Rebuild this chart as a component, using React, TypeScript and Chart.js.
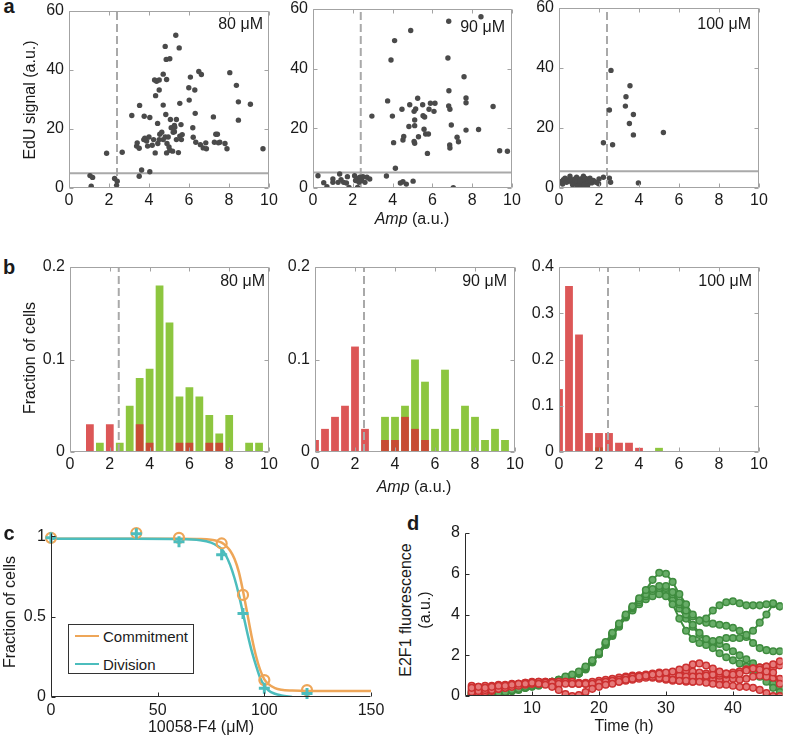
import React, { useEffect, useRef } from 'react';
import { Chart, registerables } from 'chart.js';
Chart.register(...registerables);

const FONT = '"Liberation Sans", Arial, Helvetica, sans-serif';
const INK = '#1a1a1a';
const DOT = '#4a4a4a';
const GUIDE = '#a9a9a9';
const AXIS_GREY = '#a3a3a3';
const GREEN_BAR = '#8dc63f';
const RED_BAR = 'rgba(212, 50, 50, 0.82)';
const ORANGE = '#eea658';
const TEAL = '#4cbdbd';
const D_GREEN = '#3f8c3f';
const D_GREEN_FILL = '#68ad68';
const D_RED = '#cc3030';
const D_RED_FILL = '#e67a7a';

// ---------- panel a: EdU signal vs Amp ----------
const ampTicks = [0, 2, 4, 6, 8, 10];
const eduTicks = [0, 20, 40, 60];
const ampThresholdA = 2.4;
const eduThresholds = [5, 5.2, 5.6];
const scatter80: [number, number][] = [
  [1.05, 4.2], [1.18, 3.6], [1.11, 0.6], [1.88, 11.8], [2.28, 3.2], [2.41, 2.3], [2.38, 0.9], [2.66, 12.1],
  [3.14, 24.6], [3.53, 28.0], [3.76, 24.3], [4.04, 23.9], [3.51, 4.0], [3.63, 6.1], [4.04, 5.5],
  [3.38, 14.2], [3.41, 15.3], [3.51, 13.5], [3.74, 16.4], [3.88, 15.9], [3.93, 14.2], [4.16, 14.5], [4.23, 16.4], [3.79, 16.9], [4.0, 17.3],
  [4.33, 31.3], [4.28, 36.6], [4.38, 36.2], [4.51, 36.6], [4.43, 21.9], [4.51, 33.2], [4.71, 28.1], [4.71, 38.6], [4.81, 48.0],
  [4.88, 36.8], [4.86, 43.6], [5.04, 43.8], [4.84, 24.9], [5.07, 23.2], [5.11, 20.4], [5.34, 51.8], [5.51, 47.5], [5.54, 28.7],
  [5.37, 23.2], [5.27, 21.2], [5.27, 19.1], [5.6, 21.5],
  [4.31, 11.9], [4.44, 15.1], [4.54, 18.2], [4.64, 18.9], [4.71, 16.4], [4.81, 17.3], [4.9, 15.1], [4.96, 17.3], [5.0, 13.9],
  [5.04, 12.8], [4.88, 11.9], [5.18, 12.5], [4.51, 16.4], [5.37, 16.4], [5.54, 17.6], [5.62, 16.4], [5.66, 18.1], [5.47, 12.0],
  [5.21, 18.9], [5.29, 20.6],
  [6.01, 29.8], [5.99, 34.0], [6.07, 37.6], [6.29, 33.2], [6.49, 39.5], [6.62, 38.5], [6.31, 25.3], [6.19, 20.4], [6.21, 17.2],
  [6.34, 15.5], [6.57, 14.7], [6.71, 13.6], [6.87, 13.3], [6.84, 15.3],
  [7.22, 24.1], [7.34, 18.2], [7.42, 18.2], [7.27, 15.5], [7.47, 15.3], [7.54, 15.5], [8.04, 39.1], [7.8, 15.1], [7.9, 13.3],
  [8.37, 34.8], [8.47, 29.2], [8.47, 23.0], [9.07, 28.4], [9.7, 13.3],
];
const scatter90: [number, number][] = [
  [0.25, 4.1], [0.54, 1.8], [0.7, 0.4], [1.0, 3.0], [1.0, 1.9], [1.26, 1.9], [1.34, 4.7], [1.41, 2.8], [1.54, 1.9], [1.68, 1.7],
  [1.73, 3.8], [1.81, 0.2], [2.09, 4.1], [2.14, 2.5], [2.21, 3.1], [2.31, 1.9], [2.35, 3.6], [2.45, 2.5], [2.24, 0.2], [2.51, 3.8],
  [2.61, 1.9], [2.71, 3.6], [2.85, 3.0], [2.96, 24.1], [3.69, 4.0], [3.75, 29.2], [3.92, 42.9], [3.99, 24.1], [4.1, 49.4],
  [4.05, 15.2], [4.14, 6.6], [4.39, 1.7], [4.52, 2.1], [4.69, 1.3], [5.03, 2.3], [4.47, 26.4], [4.52, 16.1], [4.56, 17.3],
  [4.82, 20.6], [4.86, 27.9], [4.91, 52.8], [5.08, 25.7], [5.11, 22.8], [5.11, 20.9], [5.08, 15.6], [5.11, 15.0], [5.16, 26.5],
  [5.26, 30.1], [5.3, 17.2], [5.51, 27.9], [5.53, 24.2], [5.58, 19.7], [5.61, 23.8], [5.66, 18.1], [5.8, 18.1], [5.75, 11.6],
  [5.83, 26.4], [5.9, 28.4], [6.08, 25.7], [6.13, 28.4], [6.82, 55.9], [6.78, 43.6], [6.83, 32.6], [6.82, 27.5], [6.88, 26.4],
  [6.87, 14.4], [6.88, 13.4], [6.95, 21.1], [7.05, 0.1], [7.24, 17.0], [7.31, 15.5], [7.59, 37.3], [7.69, 30.2], [7.69, 28.6],
  [7.69, 19.4], [8.32, 19.6], [8.44, 57.4], [9.05, 27.3], [9.38, 12.5], [9.77, 12.3],
];
const scatter100: [number, number][] = [
  [2.6, 39.2], [2.52, 26.0], [2.22, 15.1], [2.68, 14.4], [3.55, 34.1], [3.35, 30.4], [3.32, 27.3], [3.72, 24.5], [3.52, 21.5],
  [3.72, 17.7], [5.22, 18.5], [3.97, 1.7], [2.52, 3.3], [2.58, 1.9], [2.22, 3.6], [2.0, 3.0], [1.98, 1.4],
  [0.13, 2.2], [0.22, 2.8], [0.18, 1.3], [0.38, 1.9], [0.47, 2.8], [0.55, 3.9], [0.63, 1.9], [0.72, 2.8], [0.8, 1.4], [0.88, 3.6],
  [0.97, 2.2], [1.02, 1.1], [1.08, 3.0], [1.13, 1.9], [1.18, 0.6], [1.22, 3.9], [1.27, 2.5], [1.32, 1.4], [1.38, 3.0], [1.47, 2.1],
  [1.55, 3.3], [1.63, 1.7], [1.72, 2.5], [1.85, 1.9], [0.3, 3.3], [0.68, 1.1], [0.93, 0.6], [1.1, 0.3], [1.25, 1.0], [1.43, 0.8],
  [1.58, 2.3], [0.8, 3.0], [1.05, 2.3], [1.3, 3.3],
];

// ---------- panel b: histograms of Amp ----------
const binCenters = [0, 0.5, 1, 1.5, 2, 2.5, 3, 3.5, 4, 4.5, 5, 5.5, 6, 6.5, 7, 7.5, 8, 8.5, 9, 9.5];
const hist80Green = [0, 0, 0, 0.01, 0, 0.01, 0.05, 0.08, 0.09, 0.18, 0.14, 0.06, 0.07, 0.06, 0.04, 0.02, 0.04, 0, 0.01, 0.01];
const hist80Red = [0, 0, 0.03, 0, 0.03, 0, 0, 0.03, 0.01, 0, 0, 0.01, 0.01, 0, 0.01, 0.01, 0, 0, 0, 0];
const hist90Green = [0, 0, 0, 0, 0, 0, 0, 0.038, 0.038, 0.05, 0.1, 0.076, 0.025, 0.089, 0.025, 0.05, 0.038, 0.013, 0.025, 0.013];
const hist90Red = [0.013, 0.025, 0.038, 0.05, 0.114, 0.025, 0, 0.013, 0.013, 0.038, 0.025, 0.013, 0, 0, 0, 0, 0, 0, 0, 0];
const hist100Green = [0, 0, 0, 0, 0.01, 0, 0, 0, 0, 0, 0.009, 0, 0, 0, 0, 0, 0, 0, 0, 0];
const hist100Red = [0.136, 0.359, 0.254, 0.041, 0.041, 0.041, 0.02, 0.02, 0.009, 0, 0, 0, 0, 0, 0, 0, 0, 0, 0, 0];
const fracTicksLow = [0, 0.1, 0.2];
const fracTicksHigh = [0, 0.1, 0.2, 0.3, 0.4];
const ampThresholdB = 2.45;

// ---------- panel c: dose response ----------
const doseX = [0, 40, 60, 80, 90, 100, 120];
const commitmentFrac = [0.99, 1.02, 0.99, 0.955, 0.635, 0.105, 0.043];
const divisionFrac = [0.99, 1.015, 0.965, 0.885, 0.52, 0.055, 0.022];
const fitDose = [0, 40, 60, 70, 75, 78, 80, 82, 84, 86, 88, 90, 92, 94, 96, 98, 100, 102, 105, 108, 113, 120, 135, 150];
const fitCommitment = [0.985, 0.985, 0.985, 0.983, 0.978, 0.97, 0.96, 0.94, 0.91, 0.86, 0.78, 0.66, 0.52, 0.38, 0.26, 0.17, 0.11, 0.08, 0.055, 0.045, 0.04, 0.037, 0.037, 0.037];
const fitDivision = [0.985, 0.985, 0.983, 0.975, 0.96, 0.94, 0.92, 0.88, 0.82, 0.74, 0.64, 0.52, 0.4, 0.29, 0.2, 0.12, 0.07, 0.04, 0.02, 0.01, 0, null, null, null];
const doseTicks = [0, 50, 100, 150];
const fracTicksC = [0, 0.5, 1];

// ---------- panel d: E2F1 traces ----------
const timeH = [1, 2, 3, 4, 5, 6, 7, 8, 9, 10, 11, 12, 13, 14, 15, 16, 17, 18, 19, 20, 21, 22, 23, 24, 25, 26, 27, 28, 29, 30, 31, 32, 33, 34, 35, 36, 37, 38, 39, 40, 41, 42, 43, 44, 45, 46, 47];
const green1 = [0.15, 0.1, 0.05, 0.1, 0.15, 0.2, 0.3, 0.35, 0.45, 0.5, 0.55, 0.65, 0.7, 0.8, 0.95, 1.05, 1.2, 1.45, 1.75, 2.15, 2.65, 3.1, 3.55, 4.0, 4.4,
  4.8, 5.2, 5.7, 6.05, 6.0, 5.6, 5.0, 4.5, 4.0, 3.7, 3.8, 4.2, 4.45, 4.6, 4.65, 4.55, 4.45, 4.45, 4.45, 4.5, 4.55, 4.4];
const green2 = [0.05, 0.0, 0.0, 0.05, 0.1, 0.2, 0.25, 0.35, 0.4, 0.5, 0.6, 0.6, 0.7, 0.8, 0.9, 1.0, 1.15, 1.4, 1.7, 2.1, 2.6, 3.05, 3.5, 3.95, 4.35,
  4.7, 5.0, 5.25, 5.4, 5.4, 5.1, 4.6, 4.2, 3.9, 3.7, 3.6, 3.55, 3.5, 3.45, 3.35, 3.2, 3.0, 2.6, 2.35, 2.25, 2.2, 2.2];
const green3 = [0.1, 0.05, 0.05, 0.05, 0.15, 0.15, 0.25, 0.3, 0.4, 0.45, 0.5, 0.6, 0.65, 0.75, 0.85, 0.95, 1.1, 1.35, 1.7, 2.05, 2.55, 3.0, 3.45, 3.9, 4.3,
  4.6, 4.9, 5.15, 5.3, 5.3, 5.0, 4.5, 4.0, 3.5, 3.1, 2.8, 2.7, 2.75, 2.85, 2.85, 2.85, 2.9, 3.2, 3.6, 4.0, 4.5, 4.4];
const green4 = [0.0, 0.0, 0.05, 0.1, 0.1, 0.2, 0.3, 0.35, 0.4, 0.5, 0.55, 0.6, 0.7, 0.8, 0.9, 1.0, 1.1, 1.3, 1.65, 2.05, 2.5, 2.95, 3.4, 3.85, 4.2,
  4.5, 4.75, 4.9, 5.0, 4.9, 4.5, 3.8, 3.2, 2.8, 2.6, 2.5, 2.35, 2.1, 1.9, 1.75, 1.6, 1.45, 1.2, 0.95, 0.7, 0.4, 0.2];
const green5 = [0.2, 0.1, 0.1, 0.1, 0.15, 0.25, 0.3, 0.4, 0.45, 0.5, 0.6, 0.65, 0.7, 0.75, 0.85, 0.95, 1.1, 1.35, 1.7, 2.1, 2.6, 3.05, 3.5, 3.9, 4.3,
  4.65, 4.9, 5.1, 5.2, 5.1, 4.7, 4.3, 3.8, 3.4, 3.0, 2.7, 2.6, 2.55, 2.4, 2.2, 2.0, 1.8, 1.6, 1.4, 1.1, 0.6, 0.4];
const red1 = [0.4, 0.45, 0.4, 0.45, 0.5, 0.5, 0.55, 0.6, 0.6, 0.65, 0.6, 0.55, 0.45, 0.3, 0.1, 0.0, 0.05, 0.2, 0.35, 0.45,
  0.55, 0.6, 0.7, 0.8, 0.85, 0.95, 1.0, 1.05, 1.1, 1.15, 1.2, 1.3, 1.4, 1.55, 1.6, 1.5, 1.35, 1.2, 1.1, 1.05, 1.1, 1.25, 1.35, 1.3, 1.2, 1.15, 0.6];
const red2 = [0.2, 0.25, 0.3, 0.3, 0.35, 0.4, 0.45, 0.5, 0.55, 0.6, 0.6, 0.65, 0.65, 0.6, 0.6, 0.6, 0.6, 0.6, 0.6, 0.65,
  0.7, 0.75, 0.8, 0.9, 0.95, 1.0, 1.0, 0.95, 0.9, 0.85, 0.8, 0.75, 0.75, 0.7, 0.7, 0.65, 0.6, 0.55, 0.55, 0.5, 0.45, 0.45, 0.4, 0.3, 0.15, 0.0, 0.0];
const red3 = [0.3, 0.3, 0.35, 0.4, 0.45, 0.5, 0.55, 0.6, 0.65, 0.7, 0.7, 0.7, 0.7, 0.7, 0.7, 0.7, 0.65, 0.65, 0.7, 0.75,
  0.8, 0.85, 0.9, 0.95, 1.0, 1.0, 1.05, 1.1, 1.15, 1.1, 1.05, 1.0, 0.95, 0.95, 0.95, 1.0, 1.05, 1.1, 1.1, 1.15, 1.2, 1.3, 1.35, 1.4, 1.45, 1.55, 1.7];
const red4 = [0.1, 0.15, 0.2, 0.25, 0.35, 0.4, 0.5, 0.55, 0.6, 0.6, 0.65, 0.65, 0.65, 0.7, 0.7, 0.65, 0.6, 0.6, 0.6, 0.6,
  0.65, 0.7, 0.8, 0.85, 0.9, 0.95, 1.0, 1.0, 1.05, 1.1, 1.15, 1.2, 1.25, 1.2, 1.15, 1.1, 1.05, 1.0, 1.05, 1.1, 1.2, 1.3, 1.35, 1.4, 1.45, 1.4, 1.5];
const red5 = [0.5, 0.45, 0.5, 0.5, 0.55, 0.55, 0.6, 0.6, 0.65, 0.65, 0.7, 0.7, 0.65, 0.65, 0.65, 0.6, 0.6, 0.6, 0.6, 0.6,
  0.6, 0.65, 0.7, 0.75, 0.8, 0.85, 0.9, 0.9, 0.85, 0.8, 0.75, 0.75, 0.7, 0.7, 0.75, 0.75, 0.8, 0.8, 0.85, 0.85, 0.8, 0.85, 0.95, 1.0, 0.95, 0.9, 0.85];
const timeTicks = [10, 20, 30, 40];
const fluorTicks = [0, 2, 4, 6, 8];

// ---------- helpers ----------
type Box = { x: number; y: number; w: number; h: number };
type Margin = { l: number; t: number; r: number; b: number };

function axis(min: number, max: number, ticks: number[], horizontal: boolean, size: number, pad: number) {
  return {
    type: 'linear',
    min,
    max,
    offset: false,
    grid: { display: false, drawTicks: false },
    border: { display: false },
    ticks: {
      font: { family: FONT, size: 16 },
      color: INK,
      padding: pad,
      autoSkip: false,
      maxRotation: 0,
      minRotation: 0,
      callback: (v: any) => String(v),
    },
    afterBuildTicks: (s: any) => {
      s.ticks = ticks.map((v) => ({ value: v }));
    },
    afterFit: (s: any) => {
      if (horizontal) {
        s.height = size;
        s.paddingLeft = 0;
        s.paddingRight = 0;
      } else {
        s.width = size;
        s.paddingTop = 0;
        s.paddingBottom = 0;
      }
    },
  };
}

function framePlugin(color: string, box: boolean, len = 4) {
  return {
    id: 'frame',
    afterDatasetsDraw(chart: any) {
      const { ctx, chartArea: ca, scales } = chart;
      const L = Math.round(ca.left) + 0.5;
      const R = Math.round(ca.right) - 0.5;
      const T = Math.round(ca.top) + 0.5;
      const B = Math.round(ca.bottom) - 0.5;
      ctx.save();
      ctx.strokeStyle = color;
      ctx.lineWidth = 1;
      ctx.setLineDash([]);
      ctx.beginPath();
      ctx.moveTo(L, T);
      ctx.lineTo(L, B);
      ctx.lineTo(R, B);
      if (box) {
        ctx.lineTo(R, T);
        ctx.lineTo(L, T);
      }
      scales.x.ticks.forEach((t: any) => {
        const p = Math.round(scales.x.getPixelForValue(t.value)) + 0.5;
        ctx.moveTo(p, B);
        ctx.lineTo(p, B - len);
        if (box) {
          ctx.moveTo(p, T);
          ctx.lineTo(p, T + len);
        }
      });
      scales.y.ticks.forEach((t: any) => {
        const p = Math.round(scales.y.getPixelForValue(t.value)) + 0.5;
        ctx.moveTo(L, p);
        ctx.lineTo(L + len, p);
        if (box) {
          ctx.moveTo(R, p);
          ctx.lineTo(R - len, p);
        }
      });
      ctx.stroke();
      ctx.restore();
    },
  };
}

function baseOptions(m: Margin, xAxis: any, yAxis: any) {
  return {
    responsive: false,
    animation: false,
    devicePixelRatio: 1,
    events: [],
    layout: { padding: { left: 0, top: m.t, right: m.r, bottom: 0 } },
    plugins: { legend: { display: false }, tooltip: { enabled: false }, title: { display: false } },
    scales: { x: xAxis, y: yAxis },
  };
}

function ChartBox({ plot, m, make }: { plot: Box; m: Margin; make: (m: Margin) => any }) {
  const ref = useRef<HTMLCanvasElement>(null);
  useEffect(() => {
    const chart = new Chart(ref.current as HTMLCanvasElement, make(m));
    return () => chart.destroy();
  }, []);
  const W = m.l + plot.w + m.r;
  const H = m.t + plot.h + m.b;
  return (
    <canvas
      ref={ref}
      width={W}
      height={H}
      style={{ position: 'absolute', left: plot.x - m.l, top: plot.y - m.t, width: W, height: H }}
    />
  );
}

function Label({ x, y, children, size = 16, rotate = false, bold = false, anchor = 'center' }: any) {
  const tx = anchor === 'right' ? '-100%' : anchor === 'left' ? '0' : '-50%';
  return (
    <div
      style={{
        position: 'absolute',
        left: x,
        top: y,
        transform: `translate(${tx},-50%)${rotate ? ' rotate(-90deg)' : ''}`,
        fontSize: size,
        fontWeight: bold ? 'bold' : 'normal',
        whiteSpace: 'nowrap',
        lineHeight: 1,
        color: INK,
        fontFamily: FONT,
      }}
    >
      {children}
    </div>
  );
}

// ---------- chart configs ----------
function scatterConfig(points: [number, number][], yLine: number) {
  return (m: Margin) => ({
    type: 'scatter',
    data: {
      datasets: [
        {
          data: points.map(([x, y]) => ({ x, y })),
          pointRadius: 2.7,
          pointBackgroundColor: DOT,
          pointBorderWidth: 0,
          borderWidth: 0,
        },
        {
          data: [{ x: ampThresholdA, y: 0 }, { x: ampThresholdA, y: 60 }],
          showLine: true,
          borderColor: GUIDE,
          borderWidth: 2,
          borderDash: [8, 4],
          pointRadius: 0,
        },
        {
          data: [{ x: 0, y: yLine }, { x: 10, y: yLine }],
          showLine: true,
          borderColor: GUIDE,
          borderWidth: 2,
          pointRadius: 0,
        },
      ],
    },
    options: baseOptions(m, axis(0, 10, ampTicks, true, m.b, 3), axis(0, 60, eduTicks, false, m.l, 5)),
    plugins: [framePlugin(AXIS_GREY, true)],
  });
}

function histConfig(green: number[], red: number[], yMax: number, yTicks: number[]) {
  return (m: Margin) => ({
    type: 'bar',
    data: {
      datasets: [
        {
          type: 'line',
          data: [{ x: ampThresholdB, y: 0 }, { x: ampThresholdB, y: yMax }],
          borderColor: GUIDE,
          borderWidth: 2,
          borderDash: [8, 4],
          pointRadius: 0,
        },
        {
          data: binCenters.map((x, i) => ({ x, y: red[i] })),
          backgroundColor: RED_BAR,
          grouped: false,
          barPercentage: 0.78,
          categoryPercentage: 1,
          borderWidth: 0,
          clip: 0,
        },
        {
          data: binCenters.map((x, i) => ({ x, y: green[i] })),
          backgroundColor: GREEN_BAR,
          grouped: false,
          barPercentage: 0.78,
          categoryPercentage: 1,
          borderWidth: 0,
          clip: 0,
        },
      ],
    },
    options: baseOptions(m, axis(0, 10, ampTicks, true, m.b, 3), axis(0, yMax, yTicks, false, m.l, 5)),
    plugins: [framePlugin(AXIS_GREY, true)],
  });
}

function doseConfig(m: Margin) {
  const pts = (ys: (number | null)[], xs: number[]) =>
    xs.map((x, i) => ({ x, y: ys[i] })).filter((p) => p.y !== null);
  return {
    type: 'line',
    data: {
      datasets: [
        {
          data: pts(divisionFrac, doseX),
          showLine: false,
          pointStyle: 'cross',
          pointRadius: 5.5,
          pointBorderWidth: 3,
          pointBorderColor: TEAL,
          pointBackgroundColor: TEAL,
          clip: false,
        },
        {
          data: pts(commitmentFrac, doseX),
          showLine: false,
          pointStyle: 'circle',
          pointRadius: 5,
          pointBorderWidth: 2.2,
          pointBorderColor: ORANGE,
          pointBackgroundColor: 'rgba(255,255,255,0)',
          clip: false,
        },
        {
          data: pts(fitDivision, fitDose),
          borderColor: TEAL,
          borderWidth: 2.5,
          pointRadius: 0,
          cubicInterpolationMode: 'monotone',
        },
        {
          data: pts(fitCommitment, fitDose),
          borderColor: ORANGE,
          borderWidth: 2.5,
          pointRadius: 0,
          cubicInterpolationMode: 'monotone',
        },
      ],
    },
    options: baseOptions(m, axis(0, 150, doseTicks, true, m.b, 4), axis(0, 1.02, fracTicksC, false, m.l, 5)),
    plugins: [framePlugin('#2a2a2a', false)],
  };
}

function traceConfig(m: Margin) {
  const trace = (ys: number[], line: string, fill: string) => ({
    data: timeH.map((x, i) => ({ x, y: ys[i] })),
    borderColor: line,
    borderWidth: 2,
    pointRadius: 3.3,
    pointBorderWidth: 1.5,
    pointBorderColor: line,
    pointBackgroundColor: fill,
  });
  return {
    type: 'line',
    data: {
      datasets: [
        trace(red1, D_RED, D_RED_FILL),
        trace(red2, D_RED, D_RED_FILL),
        trace(red3, D_RED, D_RED_FILL),
        trace(red4, D_RED, D_RED_FILL),
        trace(red5, D_RED, D_RED_FILL),
        trace(green1, D_GREEN, D_GREEN_FILL),
        trace(green2, D_GREEN, D_GREEN_FILL),
        trace(green3, D_GREEN, D_GREEN_FILL),
        trace(green4, D_GREEN, D_GREEN_FILL),
        trace(green5, D_GREEN, D_GREEN_FILL),
      ],
    },
    options: baseOptions(m, axis(0, 47.4, timeTicks, true, m.b, 3), axis(0, 8, fluorTicks, false, m.l, 5)),
    plugins: [framePlugin('#2a2a2a', false)],
  };
}

const mSmall: Margin = { l: 42, t: 12, r: 18, b: 28 };
const mC: Margin = { l: 42, t: 12, r: 22, b: 28 };
const mD: Margin = { l: 40, t: 12, r: 1, b: 28 };

function Amp() {
  return (
    <span>
      <i>Amp</i> (a.u.)
    </span>
  );
}

function LegendC() {
  const row = (color: string, text: string, top: number) => (
    <div style={{ position: 'absolute', left: 6, top, height: 18, display: 'flex', alignItems: 'center' }}>
      <div style={{ width: 24, height: 0, borderTop: `2.5px solid ${color}` }} />
      <span style={{ marginLeft: 4, fontSize: 15, fontFamily: FONT, color: INK }}>{text}</span>
    </div>
  );
  return (
    <div
      style={{
        position: 'absolute',
        left: 68,
        top: 624,
        width: 124,
        height: 48,
        border: '1px solid #333',
        background: '#fff',
      }}
    >
      {row(ORANGE, 'Commitment', 2)}
      {row(TEAL, 'Division', 30)}
    </div>
  );
}

export default function App() {
  return (
    <div
      style={{
        position: 'absolute',
        left: 0,
        top: 0,
        width: 788,
        height: 742,
        background: '#fff',
        overflow: 'hidden',
        fontFamily: FONT,
      }}
    >
      <ChartBox plot={{ x: 69, y: 11, w: 200, h: 177 }} m={mSmall} make={scatterConfig(scatter80, eduThresholds[0])} />
      <ChartBox plot={{ x: 313, y: 9, w: 199, h: 179 }} m={mSmall} make={scatterConfig(scatter90, eduThresholds[1])} />
      <ChartBox plot={{ x: 559, y: 8, w: 200, h: 180 }} m={mSmall} make={scatterConfig(scatter100, eduThresholds[2])} />

      <ChartBox plot={{ x: 70, y: 267, w: 199, h: 185 }} m={mSmall} make={histConfig(hist80Green, hist80Red, 0.2, fracTicksLow)} />
      <ChartBox plot={{ x: 315, y: 267, w: 200, h: 185 }} m={mSmall} make={histConfig(hist90Green, hist90Red, 0.2, fracTicksLow)} />
      <ChartBox plot={{ x: 559, y: 267, w: 200, h: 185 }} m={mSmall} make={histConfig(hist100Green, hist100Red, 0.4, fracTicksHigh)} />

      <ChartBox plot={{ x: 51, y: 533, w: 320, h: 164 }} m={mC} make={doseConfig} />
      <ChartBox plot={{ x: 465, y: 533, w: 322, h: 163 }} m={mD} make={traceConfig} />

      {/* panel letters */}
      <Label x={9} y={6} size={20} bold>a</Label>
      <Label x={9} y={267} size={20} bold>b</Label>
      <Label x={9} y={533} size={20} bold>c</Label>
      <Label x={413} y={523} size={20} bold>d</Label>

      {/* concentration labels */}
      <Label x={263} y={24} anchor="right">80 μM</Label>
      <Label x={505} y={27} anchor="right">90 μM</Label>
      <Label x={751} y={24} anchor="right">100 μM</Label>
      <Label x={265} y={281} anchor="right">80 μM</Label>
      <Label x={507} y={281} anchor="right">90 μM</Label>
      <Label x={752} y={281} anchor="right">100 μM</Label>

      {/* axis titles */}
      <Label x={30} y={100} rotate>EdU signal (a.u.)</Label>
      <Label x={412} y={219}><Amp /></Label>
      <Label x={30} y={358} rotate>Fraction of cells</Label>
      <Label x={414} y={487}><Amp /></Label>
      <Label x={10} y={612} rotate>Fraction of cells</Label>
      <Label x={201} y={727}>10058-F4 (μM)</Label>
      <Label x={406} y={610} rotate>E2F1 fluorescence</Label>
      <Label x={425} y={610} rotate>(a.u.)</Label>
      <Label x={624} y={726}>Time (h)</Label>

      <LegendC />
    </div>
  );
}
